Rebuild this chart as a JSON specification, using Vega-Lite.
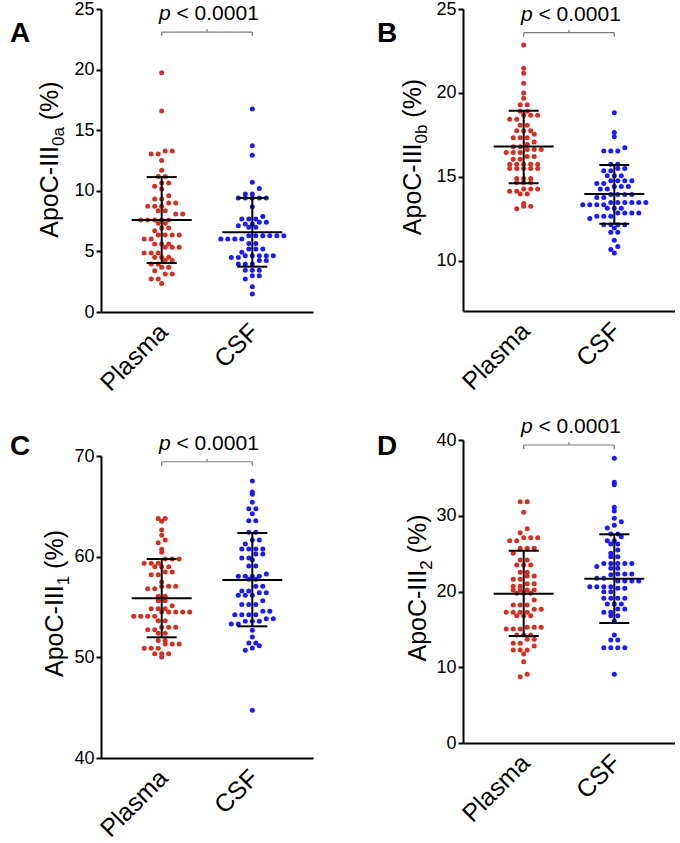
{
"$schema":"https://vega.github.io/schema/vega-lite/v6.json",
"padding":{"left":10,"top":0,"right":0,"bottom":0},
"background":"white",
"datasets":{
"stats":[
{"panel":"A","group":"Plasma","mean":7.6,"lo":4.04,"hi":11.13},
{"panel":"A","group":"CSF","mean":6.58,"lo":3.74,"hi":9.41},
{"panel":"B","group":"Plasma","mean":16.8,"lo":14.62,"hi":18.93},
{"panel":"B","group":"CSF","mean":13.97,"lo":12.2,"hi":15.7},
{"panel":"C","group":"Plasma","mean":55.86,"lo":51.99,"hi":59.77},
{"panel":"C","group":"CSF","mean":57.68,"lo":53.08,"hi":62.35},
{"panel":"D","group":"Plasma","mean":19.71,"lo":14.13,"hi":25.39},
{"panel":"D","group":"CSF","mean":21.69,"lo":15.84,"hi":27.55}
],
"dots":[
{"panel":"A","group":"Plasma","value":19.75},{"panel":"A","group":"Plasma","value":16.58},{"panel":"A","group":"Plasma","value":13.29},{"panel":"A","group":"Plasma","value":13.29},{"panel":"A","group":"Plasma","value":13.04},{"panel":"A","group":"Plasma","value":13.04},{"panel":"A","group":"Plasma","value":12.51},{"panel":"A","group":"Plasma","value":11.69},{"panel":"A","group":"Plasma","value":11.19},{"panel":"A","group":"Plasma","value":11.19},{"panel":"A","group":"Plasma","value":10.64},{"panel":"A","group":"Plasma","value":10.64},{"panel":"A","group":"Plasma","value":10.37},{"panel":"A","group":"Plasma","value":10.15},{"panel":"A","group":"Plasma","value":9.6},{"panel":"A","group":"Plasma","value":9.32},{"panel":"A","group":"Plasma","value":9.32},{"panel":"A","group":"Plasma","value":8.99},{"panel":"A","group":"Plasma","value":8.99},{"panel":"A","group":"Plasma","value":8.72},{"panel":"A","group":"Plasma","value":8.72},{"panel":"A","group":"Plasma","value":8.72},{"panel":"A","group":"Plasma","value":8.36},{"panel":"A","group":"Plasma","value":8.36},{"panel":"A","group":"Plasma","value":8.09},{"panel":"A","group":"Plasma","value":8.09},{"panel":"A","group":"Plasma","value":7.59},{"panel":"A","group":"Plasma","value":7.59},{"panel":"A","group":"Plasma","value":7.59},{"panel":"A","group":"Plasma","value":7.59},{"panel":"A","group":"Plasma","value":7.59},{"panel":"A","group":"Plasma","value":7.32},{"panel":"A","group":"Plasma","value":7.32},{"panel":"A","group":"Plasma","value":6.93},{"panel":"A","group":"Plasma","value":6.93},{"panel":"A","group":"Plasma","value":6.71},{"panel":"A","group":"Plasma","value":6.35},{"panel":"A","group":"Plasma","value":6.35},{"panel":"A","group":"Plasma","value":6.35},{"panel":"A","group":"Plasma","value":6.35},{"panel":"A","group":"Plasma","value":6.02},{"panel":"A","group":"Plasma","value":6.02},{"panel":"A","group":"Plasma","value":5.61},{"panel":"A","group":"Plasma","value":5.61},{"panel":"A","group":"Plasma","value":5.61},{"panel":"A","group":"Plasma","value":5.34},{"panel":"A","group":"Plasma","value":5.34},{"panel":"A","group":"Plasma","value":5.34},{"panel":"A","group":"Plasma","value":4.87},{"panel":"A","group":"Plasma","value":4.87},{"panel":"A","group":"Plasma","value":4.87},{"panel":"A","group":"Plasma","value":4.51},{"panel":"A","group":"Plasma","value":4.51},{"panel":"A","group":"Plasma","value":4.51},{"panel":"A","group":"Plasma","value":4.24},{"panel":"A","group":"Plasma","value":4.24},{"panel":"A","group":"Plasma","value":3.96},{"panel":"A","group":"Plasma","value":3.96},{"panel":"A","group":"Plasma","value":3.69},{"panel":"A","group":"Plasma","value":3.69},{"panel":"A","group":"Plasma","value":3.41},{"panel":"A","group":"Plasma","value":3.14},{"panel":"A","group":"Plasma","value":3.14},{"panel":"A","group":"Plasma","value":2.72},{"panel":"A","group":"Plasma","value":2.72},{"panel":"A","group":"Plasma","value":2.36},
{"panel":"A","group":"CSF","value":16.75},{"panel":"A","group":"CSF","value":13.72},{"panel":"A","group":"CSF","value":12.93},{"panel":"A","group":"CSF","value":10.7},{"panel":"A","group":"CSF","value":10.18},{"panel":"A","group":"CSF","value":9.74},{"panel":"A","group":"CSF","value":9.74},{"panel":"A","group":"CSF","value":9.4},{"panel":"A","group":"CSF","value":9.4},{"panel":"A","group":"CSF","value":9.4},{"panel":"A","group":"CSF","value":9.4},{"panel":"A","group":"CSF","value":9.4},{"panel":"A","group":"CSF","value":8.69},{"panel":"A","group":"CSF","value":7.87},{"panel":"A","group":"CSF","value":7.67},{"panel":"A","group":"CSF","value":7.67},{"panel":"A","group":"CSF","value":7.67},{"panel":"A","group":"CSF","value":7.4},{"panel":"A","group":"CSF","value":7.4},{"panel":"A","group":"CSF","value":7.26},{"panel":"A","group":"CSF","value":7.26},{"panel":"A","group":"CSF","value":7.12},{"panel":"A","group":"CSF","value":7.0},{"panel":"A","group":"CSF","value":7.0},{"panel":"A","group":"CSF","value":6.3},{"panel":"A","group":"CSF","value":6.3},{"panel":"A","group":"CSF","value":6.3},{"panel":"A","group":"CSF","value":6.3},{"panel":"A","group":"CSF","value":6.3},{"panel":"A","group":"CSF","value":6.3},{"panel":"A","group":"CSF","value":6.02},{"panel":"A","group":"CSF","value":6.02},{"panel":"A","group":"CSF","value":6.02},{"panel":"A","group":"CSF","value":6.02},{"panel":"A","group":"CSF","value":5.66},{"panel":"A","group":"CSF","value":5.66},{"panel":"A","group":"CSF","value":5.2},{"panel":"A","group":"CSF","value":5.2},{"panel":"A","group":"CSF","value":5.2},{"panel":"A","group":"CSF","value":4.92},{"panel":"A","group":"CSF","value":4.65},{"panel":"A","group":"CSF","value":4.65},{"panel":"A","group":"CSF","value":4.65},{"panel":"A","group":"CSF","value":4.65},{"panel":"A","group":"CSF","value":4.65},{"panel":"A","group":"CSF","value":4.5},{"panel":"A","group":"CSF","value":4.5},{"panel":"A","group":"CSF","value":4.24},{"panel":"A","group":"CSF","value":4.24},{"panel":"A","group":"CSF","value":3.96},{"panel":"A","group":"CSF","value":3.96},{"panel":"A","group":"CSF","value":3.96},{"panel":"A","group":"CSF","value":3.45},{"panel":"A","group":"CSF","value":3.45},{"panel":"A","group":"CSF","value":3.45},{"panel":"A","group":"CSF","value":3.0},{"panel":"A","group":"CSF","value":3.0},{"panel":"A","group":"CSF","value":2.72},{"panel":"A","group":"CSF","value":2.09},{"panel":"A","group":"CSF","value":1.49},
{"panel":"B","group":"Plasma","value":22.86},{"panel":"B","group":"Plasma","value":21.47},{"panel":"B","group":"Plasma","value":21.17},{"panel":"B","group":"Plasma","value":20.58},{"panel":"B","group":"Plasma","value":20.0},{"panel":"B","group":"Plasma","value":19.68},{"panel":"B","group":"Plasma","value":19.29},{"panel":"B","group":"Plasma","value":19.29},{"panel":"B","group":"Plasma","value":18.91},{"panel":"B","group":"Plasma","value":18.91},{"panel":"B","group":"Plasma","value":18.67},{"panel":"B","group":"Plasma","value":18.67},{"panel":"B","group":"Plasma","value":18.67},{"panel":"B","group":"Plasma","value":18.43},{"panel":"B","group":"Plasma","value":18.43},{"panel":"B","group":"Plasma","value":18.07},{"panel":"B","group":"Plasma","value":18.07},{"panel":"B","group":"Plasma","value":17.74},{"panel":"B","group":"Plasma","value":17.74},{"panel":"B","group":"Plasma","value":17.74},{"panel":"B","group":"Plasma","value":17.54},{"panel":"B","group":"Plasma","value":17.32},{"panel":"B","group":"Plasma","value":17.32},{"panel":"B","group":"Plasma","value":17.32},{"panel":"B","group":"Plasma","value":17.08},{"panel":"B","group":"Plasma","value":16.92},{"panel":"B","group":"Plasma","value":16.79},{"panel":"B","group":"Plasma","value":16.79},{"panel":"B","group":"Plasma","value":16.63},{"panel":"B","group":"Plasma","value":16.63},{"panel":"B","group":"Plasma","value":16.63},{"panel":"B","group":"Plasma","value":16.45},{"panel":"B","group":"Plasma","value":16.45},{"panel":"B","group":"Plasma","value":16.45},{"panel":"B","group":"Plasma","value":16.21},{"panel":"B","group":"Plasma","value":16.21},{"panel":"B","group":"Plasma","value":16.05},{"panel":"B","group":"Plasma","value":16.05},{"panel":"B","group":"Plasma","value":15.75},{"panel":"B","group":"Plasma","value":15.75},{"panel":"B","group":"Plasma","value":15.75},{"panel":"B","group":"Plasma","value":15.75},{"panel":"B","group":"Plasma","value":15.75},{"panel":"B","group":"Plasma","value":15.5},{"panel":"B","group":"Plasma","value":15.5},{"panel":"B","group":"Plasma","value":15.5},{"panel":"B","group":"Plasma","value":15.5},{"panel":"B","group":"Plasma","value":15.5},{"panel":"B","group":"Plasma","value":14.9},{"panel":"B","group":"Plasma","value":14.9},{"panel":"B","group":"Plasma","value":14.9},{"panel":"B","group":"Plasma","value":14.66},{"panel":"B","group":"Plasma","value":14.66},{"panel":"B","group":"Plasma","value":14.66},{"panel":"B","group":"Plasma","value":14.27},{"panel":"B","group":"Plasma","value":14.27},{"panel":"B","group":"Plasma","value":14.27},{"panel":"B","group":"Plasma","value":14.13},{"panel":"B","group":"Plasma","value":14.13},{"panel":"B","group":"Plasma","value":13.97},{"panel":"B","group":"Plasma","value":13.97},{"panel":"B","group":"Plasma","value":13.41},{"panel":"B","group":"Plasma","value":13.25},{"panel":"B","group":"Plasma","value":13.25},{"panel":"B","group":"Plasma","value":13.09},
{"panel":"B","group":"CSF","value":18.81},{"panel":"B","group":"CSF","value":17.64},{"panel":"B","group":"CSF","value":17.38},{"panel":"B","group":"CSF","value":16.73},{"panel":"B","group":"CSF","value":16.53},{"panel":"B","group":"CSF","value":16.53},{"panel":"B","group":"CSF","value":16.53},{"panel":"B","group":"CSF","value":15.75},{"panel":"B","group":"CSF","value":15.75},{"panel":"B","group":"CSF","value":15.5},{"panel":"B","group":"CSF","value":15.5},{"panel":"B","group":"CSF","value":15.36},{"panel":"B","group":"CSF","value":15.36},{"panel":"B","group":"CSF","value":15.06},{"panel":"B","group":"CSF","value":15.06},{"panel":"B","group":"CSF","value":15.06},{"panel":"B","group":"CSF","value":14.76},{"panel":"B","group":"CSF","value":14.76},{"panel":"B","group":"CSF","value":14.76},{"panel":"B","group":"CSF","value":14.76},{"panel":"B","group":"CSF","value":14.6},{"panel":"B","group":"CSF","value":14.6},{"panel":"B","group":"CSF","value":14.42},{"panel":"B","group":"CSF","value":14.42},{"panel":"B","group":"CSF","value":14.42},{"panel":"B","group":"CSF","value":14.27},{"panel":"B","group":"CSF","value":14.27},{"panel":"B","group":"CSF","value":13.95},{"panel":"B","group":"CSF","value":13.95},{"panel":"B","group":"CSF","value":13.95},{"panel":"B","group":"CSF","value":13.95},{"panel":"B","group":"CSF","value":13.77},{"panel":"B","group":"CSF","value":13.77},{"panel":"B","group":"CSF","value":13.47},{"panel":"B","group":"CSF","value":13.47},{"panel":"B","group":"CSF","value":13.47},{"panel":"B","group":"CSF","value":13.47},{"panel":"B","group":"CSF","value":13.47},{"panel":"B","group":"CSF","value":13.47},{"panel":"B","group":"CSF","value":13.33},{"panel":"B","group":"CSF","value":13.33},{"panel":"B","group":"CSF","value":13.33},{"panel":"B","group":"CSF","value":13.33},{"panel":"B","group":"CSF","value":13.12},{"panel":"B","group":"CSF","value":13.12},{"panel":"B","group":"CSF","value":13.12},{"panel":"B","group":"CSF","value":12.84},{"panel":"B","group":"CSF","value":12.84},{"panel":"B","group":"CSF","value":12.84},{"panel":"B","group":"CSF","value":12.84},{"panel":"B","group":"CSF","value":12.64},{"panel":"B","group":"CSF","value":12.64},{"panel":"B","group":"CSF","value":12.64},{"panel":"B","group":"CSF","value":12.52},{"panel":"B","group":"CSF","value":12.14},{"panel":"B","group":"CSF","value":12.14},{"panel":"B","group":"CSF","value":12.14},{"panel":"B","group":"CSF","value":12.14},{"panel":"B","group":"CSF","value":11.94},{"panel":"B","group":"CSF","value":11.69},{"panel":"B","group":"CSF","value":11.69},{"panel":"B","group":"CSF","value":11.21},{"panel":"B","group":"CSF","value":10.85},{"panel":"B","group":"CSF","value":10.67},{"panel":"B","group":"CSF","value":10.45},
{"panel":"C","group":"Plasma","value":63.8},{"panel":"C","group":"Plasma","value":63.8},{"panel":"C","group":"Plasma","value":63.51},{"panel":"C","group":"Plasma","value":62.65},{"panel":"C","group":"Plasma","value":62.12},{"panel":"C","group":"Plasma","value":61.65},{"panel":"C","group":"Plasma","value":61.39},{"panel":"C","group":"Plasma","value":60.73},{"panel":"C","group":"Plasma","value":60.43},{"panel":"C","group":"Plasma","value":59.77},{"panel":"C","group":"Plasma","value":59.77},{"panel":"C","group":"Plasma","value":59.77},{"panel":"C","group":"Plasma","value":59.34},{"panel":"C","group":"Plasma","value":59.34},{"panel":"C","group":"Plasma","value":59.34},{"panel":"C","group":"Plasma","value":59.0},{"panel":"C","group":"Plasma","value":59.0},{"panel":"C","group":"Plasma","value":59.0},{"panel":"C","group":"Plasma","value":58.48},{"panel":"C","group":"Plasma","value":58.48},{"panel":"C","group":"Plasma","value":58.21},{"panel":"C","group":"Plasma","value":58.21},{"panel":"C","group":"Plasma","value":57.48},{"panel":"C","group":"Plasma","value":57.05},{"panel":"C","group":"Plasma","value":57.05},{"panel":"C","group":"Plasma","value":57.05},{"panel":"C","group":"Plasma","value":56.82},{"panel":"C","group":"Plasma","value":56.82},{"panel":"C","group":"Plasma","value":56.06},{"panel":"C","group":"Plasma","value":56.06},{"panel":"C","group":"Plasma","value":55.63},{"panel":"C","group":"Plasma","value":55.63},{"panel":"C","group":"Plasma","value":55.13},{"panel":"C","group":"Plasma","value":54.83},{"panel":"C","group":"Plasma","value":54.83},{"panel":"C","group":"Plasma","value":54.83},{"panel":"C","group":"Plasma","value":54.5},{"panel":"C","group":"Plasma","value":54.5},{"panel":"C","group":"Plasma","value":54.5},{"panel":"C","group":"Plasma","value":54.5},{"panel":"C","group":"Plasma","value":54.5},{"panel":"C","group":"Plasma","value":54.07},{"panel":"C","group":"Plasma","value":54.07},{"panel":"C","group":"Plasma","value":54.07},{"panel":"C","group":"Plasma","value":54.07},{"panel":"C","group":"Plasma","value":53.64},{"panel":"C","group":"Plasma","value":53.64},{"panel":"C","group":"Plasma","value":52.98},{"panel":"C","group":"Plasma","value":52.98},{"panel":"C","group":"Plasma","value":52.98},{"panel":"C","group":"Plasma","value":52.75},{"panel":"C","group":"Plasma","value":52.75},{"panel":"C","group":"Plasma","value":52.38},{"panel":"C","group":"Plasma","value":52.38},{"panel":"C","group":"Plasma","value":51.66},{"panel":"C","group":"Plasma","value":51.66},{"panel":"C","group":"Plasma","value":51.32},{"panel":"C","group":"Plasma","value":51.32},{"panel":"C","group":"Plasma","value":51.32},{"panel":"C","group":"Plasma","value":50.89},{"panel":"C","group":"Plasma","value":50.89},{"panel":"C","group":"Plasma","value":50.89},{"panel":"C","group":"Plasma","value":50.36},{"panel":"C","group":"Plasma","value":50.36},{"panel":"C","group":"Plasma","value":50.36},{"panel":"C","group":"Plasma","value":50.03},
{"panel":"C","group":"CSF","value":67.52},{"panel":"C","group":"CSF","value":66.42},{"panel":"C","group":"CSF","value":66.19},{"panel":"C","group":"CSF","value":65.4},{"panel":"C","group":"CSF","value":64.77},{"panel":"C","group":"CSF","value":64.77},{"panel":"C","group":"CSF","value":64.27},{"panel":"C","group":"CSF","value":63.58},{"panel":"C","group":"CSF","value":63.58},{"panel":"C","group":"CSF","value":62.42},{"panel":"C","group":"CSF","value":62.42},{"panel":"C","group":"CSF","value":61.66},{"panel":"C","group":"CSF","value":61.66},{"panel":"C","group":"CSF","value":61.26},{"panel":"C","group":"CSF","value":60.76},{"panel":"C","group":"CSF","value":60.76},{"panel":"C","group":"CSF","value":60.76},{"panel":"C","group":"CSF","value":60.76},{"panel":"C","group":"CSF","value":60.26},{"panel":"C","group":"CSF","value":60.26},{"panel":"C","group":"CSF","value":59.87},{"panel":"C","group":"CSF","value":59.87},{"panel":"C","group":"CSF","value":59.7},{"panel":"C","group":"CSF","value":59.07},{"panel":"C","group":"CSF","value":59.07},{"panel":"C","group":"CSF","value":58.28},{"panel":"C","group":"CSF","value":58.05},{"panel":"C","group":"CSF","value":58.05},{"panel":"C","group":"CSF","value":58.05},{"panel":"C","group":"CSF","value":58.05},{"panel":"C","group":"CSF","value":57.75},{"panel":"C","group":"CSF","value":57.75},{"panel":"C","group":"CSF","value":57.05},{"panel":"C","group":"CSF","value":57.05},{"panel":"C","group":"CSF","value":56.59},{"panel":"C","group":"CSF","value":56.59},{"panel":"C","group":"CSF","value":56.42},{"panel":"C","group":"CSF","value":56.42},{"panel":"C","group":"CSF","value":56.16},{"panel":"C","group":"CSF","value":56.16},{"panel":"C","group":"CSF","value":56.16},{"panel":"C","group":"CSF","value":55.63},{"panel":"C","group":"CSF","value":55.26},{"panel":"C","group":"CSF","value":55.26},{"panel":"C","group":"CSF","value":55.26},{"panel":"C","group":"CSF","value":54.57},{"panel":"C","group":"CSF","value":54.57},{"panel":"C","group":"CSF","value":54.24},{"panel":"C","group":"CSF","value":54.24},{"panel":"C","group":"CSF","value":54.24},{"panel":"C","group":"CSF","value":54.24},{"panel":"C","group":"CSF","value":53.84},{"panel":"C","group":"CSF","value":53.84},{"panel":"C","group":"CSF","value":53.58},{"panel":"C","group":"CSF","value":53.58},{"panel":"C","group":"CSF","value":53.58},{"panel":"C","group":"CSF","value":53.31},{"panel":"C","group":"CSF","value":53.31},{"panel":"C","group":"CSF","value":52.68},{"panel":"C","group":"CSF","value":52.02},{"panel":"C","group":"CSF","value":51.42},{"panel":"C","group":"CSF","value":51.42},{"panel":"C","group":"CSF","value":51.16},{"panel":"C","group":"CSF","value":50.93},{"panel":"C","group":"CSF","value":50.7},{"panel":"C","group":"CSF","value":44.74},
{"panel":"D","group":"Plasma","value":31.86},{"panel":"D","group":"Plasma","value":31.86},{"panel":"D","group":"Plasma","value":30.45},{"panel":"D","group":"Plasma","value":28.29},{"panel":"D","group":"Plasma","value":27.77},{"panel":"D","group":"Plasma","value":27.11},{"panel":"D","group":"Plasma","value":27.11},{"panel":"D","group":"Plasma","value":27.11},{"panel":"D","group":"Plasma","value":26.7},{"panel":"D","group":"Plasma","value":26.7},{"panel":"D","group":"Plasma","value":25.7},{"panel":"D","group":"Plasma","value":25.7},{"panel":"D","group":"Plasma","value":25.7},{"panel":"D","group":"Plasma","value":25.04},{"panel":"D","group":"Plasma","value":24.16},{"panel":"D","group":"Plasma","value":24.16},{"panel":"D","group":"Plasma","value":23.5},{"panel":"D","group":"Plasma","value":23.5},{"panel":"D","group":"Plasma","value":23.5},{"panel":"D","group":"Plasma","value":22.53},{"panel":"D","group":"Plasma","value":22.53},{"panel":"D","group":"Plasma","value":22.05},{"panel":"D","group":"Plasma","value":22.05},{"panel":"D","group":"Plasma","value":21.61},{"panel":"D","group":"Plasma","value":21.61},{"panel":"D","group":"Plasma","value":21.03},{"panel":"D","group":"Plasma","value":21.03},{"panel":"D","group":"Plasma","value":20.68},{"panel":"D","group":"Plasma","value":20.68},{"panel":"D","group":"Plasma","value":20.2},{"panel":"D","group":"Plasma","value":20.2},{"panel":"D","group":"Plasma","value":20.2},{"panel":"D","group":"Plasma","value":20.2},{"panel":"D","group":"Plasma","value":19.76},{"panel":"D","group":"Plasma","value":19.76},{"panel":"D","group":"Plasma","value":19.76},{"panel":"D","group":"Plasma","value":18.88},{"panel":"D","group":"Plasma","value":18.22},{"panel":"D","group":"Plasma","value":18.22},{"panel":"D","group":"Plasma","value":18.22},{"panel":"D","group":"Plasma","value":17.65},{"panel":"D","group":"Plasma","value":17.65},{"panel":"D","group":"Plasma","value":17.25},{"panel":"D","group":"Plasma","value":17.25},{"panel":"D","group":"Plasma","value":17.25},{"panel":"D","group":"Plasma","value":17.25},{"panel":"D","group":"Plasma","value":16.81},{"panel":"D","group":"Plasma","value":16.81},{"panel":"D","group":"Plasma","value":16.81},{"panel":"D","group":"Plasma","value":15.27},{"panel":"D","group":"Plasma","value":15.27},{"panel":"D","group":"Plasma","value":15.27},{"panel":"D","group":"Plasma","value":15.05},{"panel":"D","group":"Plasma","value":15.05},{"panel":"D","group":"Plasma","value":15.05},{"panel":"D","group":"Plasma","value":14.26},{"panel":"D","group":"Plasma","value":14.26},{"panel":"D","group":"Plasma","value":14.26},{"panel":"D","group":"Plasma","value":13.68},{"panel":"D","group":"Plasma","value":13.68},{"panel":"D","group":"Plasma","value":13.16},{"panel":"D","group":"Plasma","value":13.16},{"panel":"D","group":"Plasma","value":12.81},{"panel":"D","group":"Plasma","value":12.28},{"panel":"D","group":"Plasma","value":12.28},{"panel":"D","group":"Plasma","value":12.28},{"panel":"D","group":"Plasma","value":11.75},{"panel":"D","group":"Plasma","value":10.74},{"panel":"D","group":"Plasma","value":9.06},{"panel":"D","group":"Plasma","value":8.76},
{"panel":"D","group":"CSF","value":37.58},{"panel":"D","group":"CSF","value":34.41},{"panel":"D","group":"CSF","value":34.1},{"panel":"D","group":"CSF","value":31.11},{"panel":"D","group":"CSF","value":30.63},{"panel":"D","group":"CSF","value":29.66},{"panel":"D","group":"CSF","value":29.22},{"panel":"D","group":"CSF","value":28.74},{"panel":"D","group":"CSF","value":28.38},{"panel":"D","group":"CSF","value":27.59},{"panel":"D","group":"CSF","value":27.59},{"panel":"D","group":"CSF","value":27.24},{"panel":"D","group":"CSF","value":26.71},{"panel":"D","group":"CSF","value":26.71},{"panel":"D","group":"CSF","value":26.27},{"panel":"D","group":"CSF","value":26.27},{"panel":"D","group":"CSF","value":25.48},{"panel":"D","group":"CSF","value":25.04},{"panel":"D","group":"CSF","value":24.6},{"panel":"D","group":"CSF","value":24.6},{"panel":"D","group":"CSF","value":23.68},{"panel":"D","group":"CSF","value":23.68},{"panel":"D","group":"CSF","value":23.68},{"panel":"D","group":"CSF","value":23.68},{"panel":"D","group":"CSF","value":23.68},{"panel":"D","group":"CSF","value":23.3},{"panel":"D","group":"CSF","value":23.06},{"panel":"D","group":"CSF","value":23.06},{"panel":"D","group":"CSF","value":22.31},{"panel":"D","group":"CSF","value":22.31},{"panel":"D","group":"CSF","value":22.31},{"panel":"D","group":"CSF","value":22.2},{"panel":"D","group":"CSF","value":21.74},{"panel":"D","group":"CSF","value":21.74},{"panel":"D","group":"CSF","value":21.39},{"panel":"D","group":"CSF","value":21.39},{"panel":"D","group":"CSF","value":21.39},{"panel":"D","group":"CSF","value":21.39},{"panel":"D","group":"CSF","value":20.64},{"panel":"D","group":"CSF","value":20.64},{"panel":"D","group":"CSF","value":20.64},{"panel":"D","group":"CSF","value":20.64},{"panel":"D","group":"CSF","value":20.42},{"panel":"D","group":"CSF","value":20.42},{"panel":"D","group":"CSF","value":19.98},{"panel":"D","group":"CSF","value":19.98},{"panel":"D","group":"CSF","value":19.1},{"panel":"D","group":"CSF","value":19.1},{"panel":"D","group":"CSF","value":19.1},{"panel":"D","group":"CSF","value":19.1},{"panel":"D","group":"CSF","value":18.35},{"panel":"D","group":"CSF","value":18.35},{"panel":"D","group":"CSF","value":18.35},{"panel":"D","group":"CSF","value":17.69},{"panel":"D","group":"CSF","value":17.69},{"panel":"D","group":"CSF","value":17.25},{"panel":"D","group":"CSF","value":17.25},{"panel":"D","group":"CSF","value":16.81},{"panel":"D","group":"CSF","value":16.81},{"panel":"D","group":"CSF","value":16.1},{"panel":"D","group":"CSF","value":14.26},{"panel":"D","group":"CSF","value":13.6},{"panel":"D","group":"CSF","value":13.6},{"panel":"D","group":"CSF","value":12.59},{"panel":"D","group":"CSF","value":12.59},{"panel":"D","group":"CSF","value":12.59},{"panel":"D","group":"CSF","value":12.59},{"panel":"D","group":"CSF","value":9.06}
]
},
"hconcat":[
{"vconcat":[
{"width":212,"height":303,"layer":[
{"data":{"name":"dots"},"transform":[{"filter":"datum.panel === 'A'"},{"calculate":"floor(datum.value / 0.54)","as":"row"},{"window":[{"op":"row_number","as":"k"},{"op":"count","as":"n"}],"groupby":["group","row"],"sort":[{"field":"value","order":"ascending"}],"frame":[null,null]},{"calculate":"(datum.group === 'Plasma' ? 0 : 1) + (datum.k - 1 - (datum.n - 1) / 2) * 0.0773","as":"xpos"}],
"mark":{"type":"circle","size":25,"opacity":1},
"encoding":{"x":{"field":"xpos","type":"quantitative","scale":{"domain":[-0.67,1.67],"nice":false,"zero":false},"axis":{"values":[0,1],"labelExpr":"datum.value === 0 ? 'Plasma' : 'CSF'","labelAngle":-45,"labelFontSize":25,"ticks":false,"title":null,"labelPadding":7,"labelOffset":-7,"labelOverlap":false,"labelFlush":false}},
"y":{"field":"value","type":"quantitative","scale":{"domain":[0,25],"nice":false,"zero":false},"axis":{"values":[0,5,10,15,20,25],"title":null}},
"color":{"field":"group","type":"nominal","scale":{"domain":["Plasma","CSF"],"range":["#d42f20","#1a1aff"]},"legend":null}}},
{"data":{"name":"stats"},"transform":[{"filter":"datum.panel === 'A'"},{"calculate":"datum.group === 'Plasma' ? 0 : 1","as":"gx"}],"layer":[
{"mark":{"type":"rule","color":"black","strokeWidth":2},"encoding":{"x":{"field":"gx","type":"quantitative"},"y":{"field":"lo","type":"quantitative"},"y2":{"field":"hi"}}},
{"mark":{"type":"tick","orient":"horizontal","size":60,"thickness":2,"color":"black","opacity":1},"encoding":{"x":{"field":"gx","type":"quantitative"},"y":{"field":"mean","type":"quantitative"}}},
{"transform":[{"fold":["lo","hi"],"as":["which","cap"]}],"mark":{"type":"tick","orient":"horizontal","size":30,"thickness":2,"color":"black","opacity":1},"encoding":{"x":{"field":"gx","type":"quantitative"},"y":{"field":"cap","type":"quantitative"}}}]},
{"data":{"values":[{}]},"layer":[
{"mark":{"type":"rule","color":"#7a7a7a","strokeWidth":1.2},"encoding":{"x":{"datum":0,"type":"quantitative","scale":{"domain":[-0.67,1.67],"nice":false}},"x2":{"datum":1},"y":{"datum":23.1,"type":"quantitative","scale":{"domain":[0,25],"nice":false}}}},
{"mark":{"type":"rule","color":"#7a7a7a","strokeWidth":1.2},"encoding":{"x":{"datum":0,"type":"quantitative","scale":{"domain":[-0.67,1.67],"nice":false}},"y":{"datum":23.1,"type":"quantitative","scale":{"domain":[0,25],"nice":false}},"y2":{"datum":22.77}}},
{"mark":{"type":"rule","color":"#7a7a7a","strokeWidth":1.2},"encoding":{"x":{"datum":1,"type":"quantitative","scale":{"domain":[-0.67,1.67],"nice":false}},"y":{"datum":23.1,"type":"quantitative","scale":{"domain":[0,25],"nice":false}},"y2":{"datum":22.77}}},
{"mark":{"type":"rule","color":"#7a7a7a","strokeWidth":1.2},"encoding":{"x":{"datum":0.5,"type":"quantitative","scale":{"domain":[-0.67,1.67],"nice":false}},"y":{"datum":23.1,"type":"quantitative","scale":{"domain":[0,25],"nice":false}},"y2":{"datum":23.35}}},
{"mark":{"type":"text","text":"p","fontStyle":"italic","fontSize":21,"align":"left","baseline":"alphabetic","dx":-48,"dy":-12},"encoding":{"x":{"datum":0.5,"type":"quantitative","scale":{"domain":[-0.67,1.67],"nice":false}},"y":{"datum":23.1,"type":"quantitative","scale":{"domain":[0,25],"nice":false}}}},
{"mark":{"type":"text","text":"< 0.0001","fontSize":21,"align":"left","baseline":"alphabetic","dx":-30.5,"dy":-12},"encoding":{"x":{"datum":0.5,"type":"quantitative","scale":{"domain":[-0.67,1.67],"nice":false}},"y":{"datum":23.1,"type":"quantitative","scale":{"domain":[0,25],"nice":false}}}},
{"mark":{"type":"text","text":"ApoC-III","fontSize":25,"angle":270,"align":"left","baseline":"alphabetic","dx":-78.2},"encoding":{"x":{"datum":-1.145,"type":"quantitative","scale":{"domain":[-0.67,1.67],"nice":false}},"y":{"datum":12.58,"type":"quantitative","scale":{"domain":[0,25],"nice":false}}}},
{"mark":{"type":"text","text":"0a","fontSize":17,"angle":270,"align":"left","baseline":"alphabetic","dx":13.5,"dy":6},"encoding":{"x":{"datum":-1.145,"type":"quantitative","scale":{"domain":[-0.67,1.67],"nice":false}},"y":{"datum":12.58,"type":"quantitative","scale":{"domain":[0,25],"nice":false}}}},
{"mark":{"type":"text","text":"(%)","fontSize":25,"angle":270,"align":"left","baseline":"alphabetic","dx":39.3},"encoding":{"x":{"datum":-1.145,"type":"quantitative","scale":{"domain":[-0.67,1.67],"nice":false}},"y":{"datum":12.58,"type":"quantitative","scale":{"domain":[0,25],"nice":false}}}},
{"mark":{"type":"text","text":"A","fontSize":28,"fontWeight":"bold","align":"left","baseline":"alphabetic"},"encoding":{"x":{"datum":-1.674,"type":"quantitative","scale":{"domain":[-0.67,1.67],"nice":false}},"y":{"datum":22.28,"type":"quantitative","scale":{"domain":[0,25],"nice":false}}}}]}]},
{"width":212,"height":302,"layer":[
{"data":{"name":"dots"},"transform":[{"filter":"datum.panel === 'C'"},{"calculate":"floor(datum.value / 0.65)","as":"row"},{"window":[{"op":"row_number","as":"k"},{"op":"count","as":"n"}],"groupby":["group","row"],"sort":[{"field":"value","order":"ascending"}],"frame":[null,null]},{"calculate":"(datum.group === 'Plasma' ? 0 : 1) + (datum.k - 1 - (datum.n - 1) / 2) * 0.0773","as":"xpos"}],
"mark":{"type":"circle","size":25,"opacity":1},
"encoding":{"x":{"field":"xpos","type":"quantitative","scale":{"domain":[-0.67,1.67],"nice":false,"zero":false},"axis":{"values":[0,1],"labelExpr":"datum.value === 0 ? 'Plasma' : 'CSF'","labelAngle":-45,"labelFontSize":25,"ticks":false,"title":null,"labelPadding":7,"labelOffset":-7,"labelOverlap":false,"labelFlush":false}},
"y":{"field":"value","type":"quantitative","scale":{"domain":[40,70],"nice":false,"zero":false},"axis":{"values":[40,50,60,70],"title":null}},
"color":{"field":"group","type":"nominal","scale":{"domain":["Plasma","CSF"],"range":["#d42f20","#1a1aff"]},"legend":null}}},
{"data":{"name":"stats"},"transform":[{"filter":"datum.panel === 'C'"},{"calculate":"datum.group === 'Plasma' ? 0 : 1","as":"gx"}],"layer":[
{"mark":{"type":"rule","color":"black","strokeWidth":2},"encoding":{"x":{"field":"gx","type":"quantitative"},"y":{"field":"lo","type":"quantitative"},"y2":{"field":"hi"}}},
{"mark":{"type":"tick","orient":"horizontal","size":60,"thickness":2,"color":"black","opacity":1},"encoding":{"x":{"field":"gx","type":"quantitative"},"y":{"field":"mean","type":"quantitative"}}},
{"transform":[{"fold":["lo","hi"],"as":["which","cap"]}],"mark":{"type":"tick","orient":"horizontal","size":30,"thickness":2,"color":"black","opacity":1},"encoding":{"x":{"field":"gx","type":"quantitative"},"y":{"field":"cap","type":"quantitative"}}}]},
{"data":{"values":[{}]},"layer":[
{"mark":{"type":"rule","color":"#7a7a7a","strokeWidth":1.2},"encoding":{"x":{"datum":0,"type":"quantitative","scale":{"domain":[-0.67,1.67],"nice":false}},"x2":{"datum":1},"y":{"datum":69.43,"type":"quantitative","scale":{"domain":[40,70],"nice":false}}}},
{"mark":{"type":"rule","color":"#7a7a7a","strokeWidth":1.2},"encoding":{"x":{"datum":0,"type":"quantitative","scale":{"domain":[-0.67,1.67],"nice":false}},"y":{"datum":69.43,"type":"quantitative","scale":{"domain":[40,70],"nice":false}},"y2":{"datum":69.03}}},
{"mark":{"type":"rule","color":"#7a7a7a","strokeWidth":1.2},"encoding":{"x":{"datum":1,"type":"quantitative","scale":{"domain":[-0.67,1.67],"nice":false}},"y":{"datum":69.43,"type":"quantitative","scale":{"domain":[40,70],"nice":false}},"y2":{"datum":69.03}}},
{"mark":{"type":"rule","color":"#7a7a7a","strokeWidth":1.2},"encoding":{"x":{"datum":0.5,"type":"quantitative","scale":{"domain":[-0.67,1.67],"nice":false}},"y":{"datum":69.43,"type":"quantitative","scale":{"domain":[40,70],"nice":false}},"y2":{"datum":69.73}}},
{"mark":{"type":"text","text":"p","fontStyle":"italic","fontSize":21,"align":"left","baseline":"alphabetic","dx":-48,"dy":-12},"encoding":{"x":{"datum":0.5,"type":"quantitative","scale":{"domain":[-0.67,1.67],"nice":false}},"y":{"datum":69.43,"type":"quantitative","scale":{"domain":[40,70],"nice":false}}}},
{"mark":{"type":"text","text":"< 0.0001","fontSize":21,"align":"left","baseline":"alphabetic","dx":-30.5,"dy":-12},"encoding":{"x":{"datum":0.5,"type":"quantitative","scale":{"domain":[-0.67,1.67],"nice":false}},"y":{"datum":69.43,"type":"quantitative","scale":{"domain":[40,70],"nice":false}}}},
{"mark":{"type":"text","text":"ApoC-III","fontSize":25,"angle":270,"align":"left","baseline":"alphabetic","dx":-73.5},"encoding":{"x":{"datum":-1.089,"type":"quantitative","scale":{"domain":[-0.67,1.67],"nice":false}},"y":{"datum":55.35,"type":"quantitative","scale":{"domain":[40,70],"nice":false}}}},
{"mark":{"type":"text","text":"1","fontSize":17,"angle":270,"align":"left","baseline":"alphabetic","dx":18.2,"dy":6},"encoding":{"x":{"datum":-1.089,"type":"quantitative","scale":{"domain":[-0.67,1.67],"nice":false}},"y":{"datum":55.35,"type":"quantitative","scale":{"domain":[40,70],"nice":false}}}},
{"mark":{"type":"text","text":"(%)","fontSize":25,"angle":270,"align":"left","baseline":"alphabetic","dx":34.6},"encoding":{"x":{"datum":-1.089,"type":"quantitative","scale":{"domain":[-0.67,1.67],"nice":false}},"y":{"datum":55.35,"type":"quantitative","scale":{"domain":[40,70],"nice":false}}}},
{"mark":{"type":"text","text":"C","fontSize":28,"fontWeight":"bold","align":"left","baseline":"alphabetic"},"encoding":{"x":{"datum":-1.674,"type":"quantitative","scale":{"domain":[-0.67,1.67],"nice":false}},"y":{"datum":70.1,"type":"quantitative","scale":{"domain":[40,70],"nice":false}}}}]}]}
],"spacing":144,"bounds":"flush"},
{"vconcat":[
{"width":212,"height":302,"layer":[
{"data":{"name":"dots"},"transform":[{"filter":"datum.panel === 'B'"},{"calculate":"floor(datum.value / 0.39)","as":"row"},{"window":[{"op":"row_number","as":"k"},{"op":"count","as":"n"}],"groupby":["group","row"],"sort":[{"field":"value","order":"ascending"}],"frame":[null,null]},{"calculate":"(datum.group === 'Plasma' ? 0 : 1) + (datum.k - 1 - (datum.n - 1) / 2) * 0.0773","as":"xpos"}],
"mark":{"type":"circle","size":25,"opacity":1},
"encoding":{"x":{"field":"xpos","type":"quantitative","scale":{"domain":[-0.67,1.67],"nice":false,"zero":false},"axis":{"values":[0,1],"labelExpr":"datum.value === 0 ? 'Plasma' : 'CSF'","labelAngle":-45,"labelFontSize":25,"ticks":false,"title":null,"labelPadding":7,"labelOffset":-7,"labelOverlap":false,"labelFlush":false}},
"y":{"field":"value","type":"quantitative","scale":{"domain":[7,25],"nice":false,"zero":false},"axis":{"values":[10,15,20,25],"title":null}},
"color":{"field":"group","type":"nominal","scale":{"domain":["Plasma","CSF"],"range":["#d42f20","#1a1aff"]},"legend":null}}},
{"data":{"name":"stats"},"transform":[{"filter":"datum.panel === 'B'"},{"calculate":"datum.group === 'Plasma' ? 0 : 1","as":"gx"}],"layer":[
{"mark":{"type":"rule","color":"black","strokeWidth":2},"encoding":{"x":{"field":"gx","type":"quantitative"},"y":{"field":"lo","type":"quantitative"},"y2":{"field":"hi"}}},
{"mark":{"type":"tick","orient":"horizontal","size":60,"thickness":2,"color":"black","opacity":1},"encoding":{"x":{"field":"gx","type":"quantitative"},"y":{"field":"mean","type":"quantitative"}}},
{"transform":[{"fold":["lo","hi"],"as":["which","cap"]}],"mark":{"type":"tick","orient":"horizontal","size":30,"thickness":2,"color":"black","opacity":1},"encoding":{"x":{"field":"gx","type":"quantitative"},"y":{"field":"cap","type":"quantitative"}}}]},
{"data":{"values":[{}]},"layer":[
{"mark":{"type":"rule","color":"#7a7a7a","strokeWidth":1.2},"encoding":{"x":{"datum":0,"type":"quantitative","scale":{"domain":[-0.67,1.67],"nice":false}},"x2":{"datum":1},"y":{"datum":23.59,"type":"quantitative","scale":{"domain":[7,25],"nice":false}}}},
{"mark":{"type":"rule","color":"#7a7a7a","strokeWidth":1.2},"encoding":{"x":{"datum":0,"type":"quantitative","scale":{"domain":[-0.67,1.67],"nice":false}},"y":{"datum":23.59,"type":"quantitative","scale":{"domain":[7,25],"nice":false}},"y2":{"datum":23.35}}},
{"mark":{"type":"rule","color":"#7a7a7a","strokeWidth":1.2},"encoding":{"x":{"datum":1,"type":"quantitative","scale":{"domain":[-0.67,1.67],"nice":false}},"y":{"datum":23.59,"type":"quantitative","scale":{"domain":[7,25],"nice":false}},"y2":{"datum":23.35}}},
{"mark":{"type":"rule","color":"#7a7a7a","strokeWidth":1.2},"encoding":{"x":{"datum":0.5,"type":"quantitative","scale":{"domain":[-0.67,1.67],"nice":false}},"y":{"datum":23.59,"type":"quantitative","scale":{"domain":[7,25],"nice":false}},"y2":{"datum":23.77}}},
{"mark":{"type":"text","text":"p","fontStyle":"italic","fontSize":21,"align":"left","baseline":"alphabetic","dx":-48,"dy":-12},"encoding":{"x":{"datum":0.5,"type":"quantitative","scale":{"domain":[-0.67,1.67],"nice":false}},"y":{"datum":23.59,"type":"quantitative","scale":{"domain":[7,25],"nice":false}}}},
{"mark":{"type":"text","text":"< 0.0001","fontSize":21,"align":"left","baseline":"alphabetic","dx":-30.5,"dy":-12},"encoding":{"x":{"datum":0.5,"type":"quantitative","scale":{"domain":[-0.67,1.67],"nice":false}},"y":{"datum":23.59,"type":"quantitative","scale":{"domain":[7,25],"nice":false}}}},
{"mark":{"type":"text","text":"ApoC-III","fontSize":25,"angle":270,"align":"left","baseline":"alphabetic","dx":-78.2},"encoding":{"x":{"datum":-1.134,"type":"quantitative","scale":{"domain":[-0.67,1.67],"nice":false}},"y":{"datum":16.18,"type":"quantitative","scale":{"domain":[7,25],"nice":false}}}},
{"mark":{"type":"text","text":"0b","fontSize":17,"angle":270,"align":"left","baseline":"alphabetic","dx":13.5,"dy":6},"encoding":{"x":{"datum":-1.134,"type":"quantitative","scale":{"domain":[-0.67,1.67],"nice":false}},"y":{"datum":16.18,"type":"quantitative","scale":{"domain":[7,25],"nice":false}}}},
{"mark":{"type":"text","text":"(%)","fontSize":25,"angle":270,"align":"left","baseline":"alphabetic","dx":39.3},"encoding":{"x":{"datum":-1.134,"type":"quantitative","scale":{"domain":[-0.67,1.67],"nice":false}},"y":{"datum":16.18,"type":"quantitative","scale":{"domain":[7,25],"nice":false}}}},
{"mark":{"type":"text","text":"B","fontSize":28,"fontWeight":"bold","align":"left","baseline":"alphabetic"},"encoding":{"x":{"datum":-1.619,"type":"quantitative","scale":{"domain":[-0.67,1.67],"nice":false}},"y":{"datum":23.04,"type":"quantitative","scale":{"domain":[7,25],"nice":false}}}}]}]},
{"width":212,"height":303,"layer":[
{"data":{"name":"dots"},"transform":[{"filter":"datum.panel === 'D'"},{"calculate":"floor(datum.value / 0.86)","as":"row"},{"window":[{"op":"row_number","as":"k"},{"op":"count","as":"n"}],"groupby":["group","row"],"sort":[{"field":"value","order":"ascending"}],"frame":[null,null]},{"calculate":"(datum.group === 'Plasma' ? 0 : 1) + (datum.k - 1 - (datum.n - 1) / 2) * 0.0773","as":"xpos"}],
"mark":{"type":"circle","size":25,"opacity":1},
"encoding":{"x":{"field":"xpos","type":"quantitative","scale":{"domain":[-0.67,1.67],"nice":false,"zero":false},"axis":{"values":[0,1],"labelExpr":"datum.value === 0 ? 'Plasma' : 'CSF'","labelAngle":-45,"labelFontSize":25,"ticks":false,"title":null,"labelPadding":7,"labelOffset":-7,"labelOverlap":false,"labelFlush":false}},
"y":{"field":"value","type":"quantitative","scale":{"domain":[0,40],"nice":false,"zero":false},"axis":{"values":[0,10,20,30,40],"title":null}},
"color":{"field":"group","type":"nominal","scale":{"domain":["Plasma","CSF"],"range":["#d42f20","#1a1aff"]},"legend":null}}},
{"data":{"name":"stats"},"transform":[{"filter":"datum.panel === 'D'"},{"calculate":"datum.group === 'Plasma' ? 0 : 1","as":"gx"}],"layer":[
{"mark":{"type":"rule","color":"black","strokeWidth":2},"encoding":{"x":{"field":"gx","type":"quantitative"},"y":{"field":"lo","type":"quantitative"},"y2":{"field":"hi"}}},
{"mark":{"type":"tick","orient":"horizontal","size":60,"thickness":2,"color":"black","opacity":1},"encoding":{"x":{"field":"gx","type":"quantitative"},"y":{"field":"mean","type":"quantitative"}}},
{"transform":[{"fold":["lo","hi"],"as":["which","cap"]}],"mark":{"type":"tick","orient":"horizontal","size":30,"thickness":2,"color":"black","opacity":1},"encoding":{"x":{"field":"gx","type":"quantitative"},"y":{"field":"cap","type":"quantitative"}}}]},
{"data":{"values":[{}]},"layer":[
{"mark":{"type":"rule","color":"#7a7a7a","strokeWidth":1.2},"encoding":{"x":{"datum":0,"type":"quantitative","scale":{"domain":[-0.67,1.67],"nice":false}},"x2":{"datum":1},"y":{"datum":39.34,"type":"quantitative","scale":{"domain":[0,40],"nice":false}}}},
{"mark":{"type":"rule","color":"#7a7a7a","strokeWidth":1.2},"encoding":{"x":{"datum":0,"type":"quantitative","scale":{"domain":[-0.67,1.67],"nice":false}},"y":{"datum":39.34,"type":"quantitative","scale":{"domain":[0,40],"nice":false}},"y2":{"datum":38.81}}},
{"mark":{"type":"rule","color":"#7a7a7a","strokeWidth":1.2},"encoding":{"x":{"datum":1,"type":"quantitative","scale":{"domain":[-0.67,1.67],"nice":false}},"y":{"datum":39.34,"type":"quantitative","scale":{"domain":[0,40],"nice":false}},"y2":{"datum":38.81}}},
{"mark":{"type":"rule","color":"#7a7a7a","strokeWidth":1.2},"encoding":{"x":{"datum":0.5,"type":"quantitative","scale":{"domain":[-0.67,1.67],"nice":false}},"y":{"datum":39.34,"type":"quantitative","scale":{"domain":[0,40],"nice":false}},"y2":{"datum":39.74}}},
{"mark":{"type":"text","text":"p","fontStyle":"italic","fontSize":21,"align":"left","baseline":"alphabetic","dx":-48,"dy":-12},"encoding":{"x":{"datum":0.5,"type":"quantitative","scale":{"domain":[-0.67,1.67],"nice":false}},"y":{"datum":39.34,"type":"quantitative","scale":{"domain":[0,40],"nice":false}}}},
{"mark":{"type":"text","text":"< 0.0001","fontSize":21,"align":"left","baseline":"alphabetic","dx":-30.5,"dy":-12},"encoding":{"x":{"datum":0.5,"type":"quantitative","scale":{"domain":[-0.67,1.67],"nice":false}},"y":{"datum":39.34,"type":"quantitative","scale":{"domain":[0,40],"nice":false}}}},
{"mark":{"type":"text","text":"ApoC-III","fontSize":25,"angle":270,"align":"left","baseline":"alphabetic","dx":-73.5},"encoding":{"x":{"datum":-1.078,"type":"quantitative","scale":{"domain":[-0.67,1.67],"nice":false}},"y":{"datum":20.46,"type":"quantitative","scale":{"domain":[0,40],"nice":false}}}},
{"mark":{"type":"text","text":"2","fontSize":17,"angle":270,"align":"left","baseline":"alphabetic","dx":18.2,"dy":6},"encoding":{"x":{"datum":-1.078,"type":"quantitative","scale":{"domain":[-0.67,1.67],"nice":false}},"y":{"datum":20.46,"type":"quantitative","scale":{"domain":[0,40],"nice":false}}}},
{"mark":{"type":"text","text":"(%)","fontSize":25,"angle":270,"align":"left","baseline":"alphabetic","dx":34.6},"encoding":{"x":{"datum":-1.078,"type":"quantitative","scale":{"domain":[-0.67,1.67],"nice":false}},"y":{"datum":20.46,"type":"quantitative","scale":{"domain":[0,40],"nice":false}}}},
{"mark":{"type":"text","text":"D","fontSize":28,"fontWeight":"bold","align":"left","baseline":"alphabetic"},"encoding":{"x":{"datum":-1.619,"type":"quantitative","scale":{"domain":[-0.67,1.67],"nice":false}},"y":{"datum":38.02,"type":"quantitative","scale":{"domain":[0,40],"nice":false}}}}]}]}
],"spacing":129,"bounds":"flush"}
],
"spacing":64,
"bounds":"full",
"config":{
"view":{"stroke":null},
"font":"Liberation Sans",
"axis":{"domainColor":"black","domainWidth":2,"tickColor":"black","tickWidth":2,"tickSize":5,"labelColor":"black","labelFont":"Liberation Sans","labelFontSize":18,"labelPadding":2,"grid":false},
"text":{"font":"Liberation Sans","color":"black"}
}
}
